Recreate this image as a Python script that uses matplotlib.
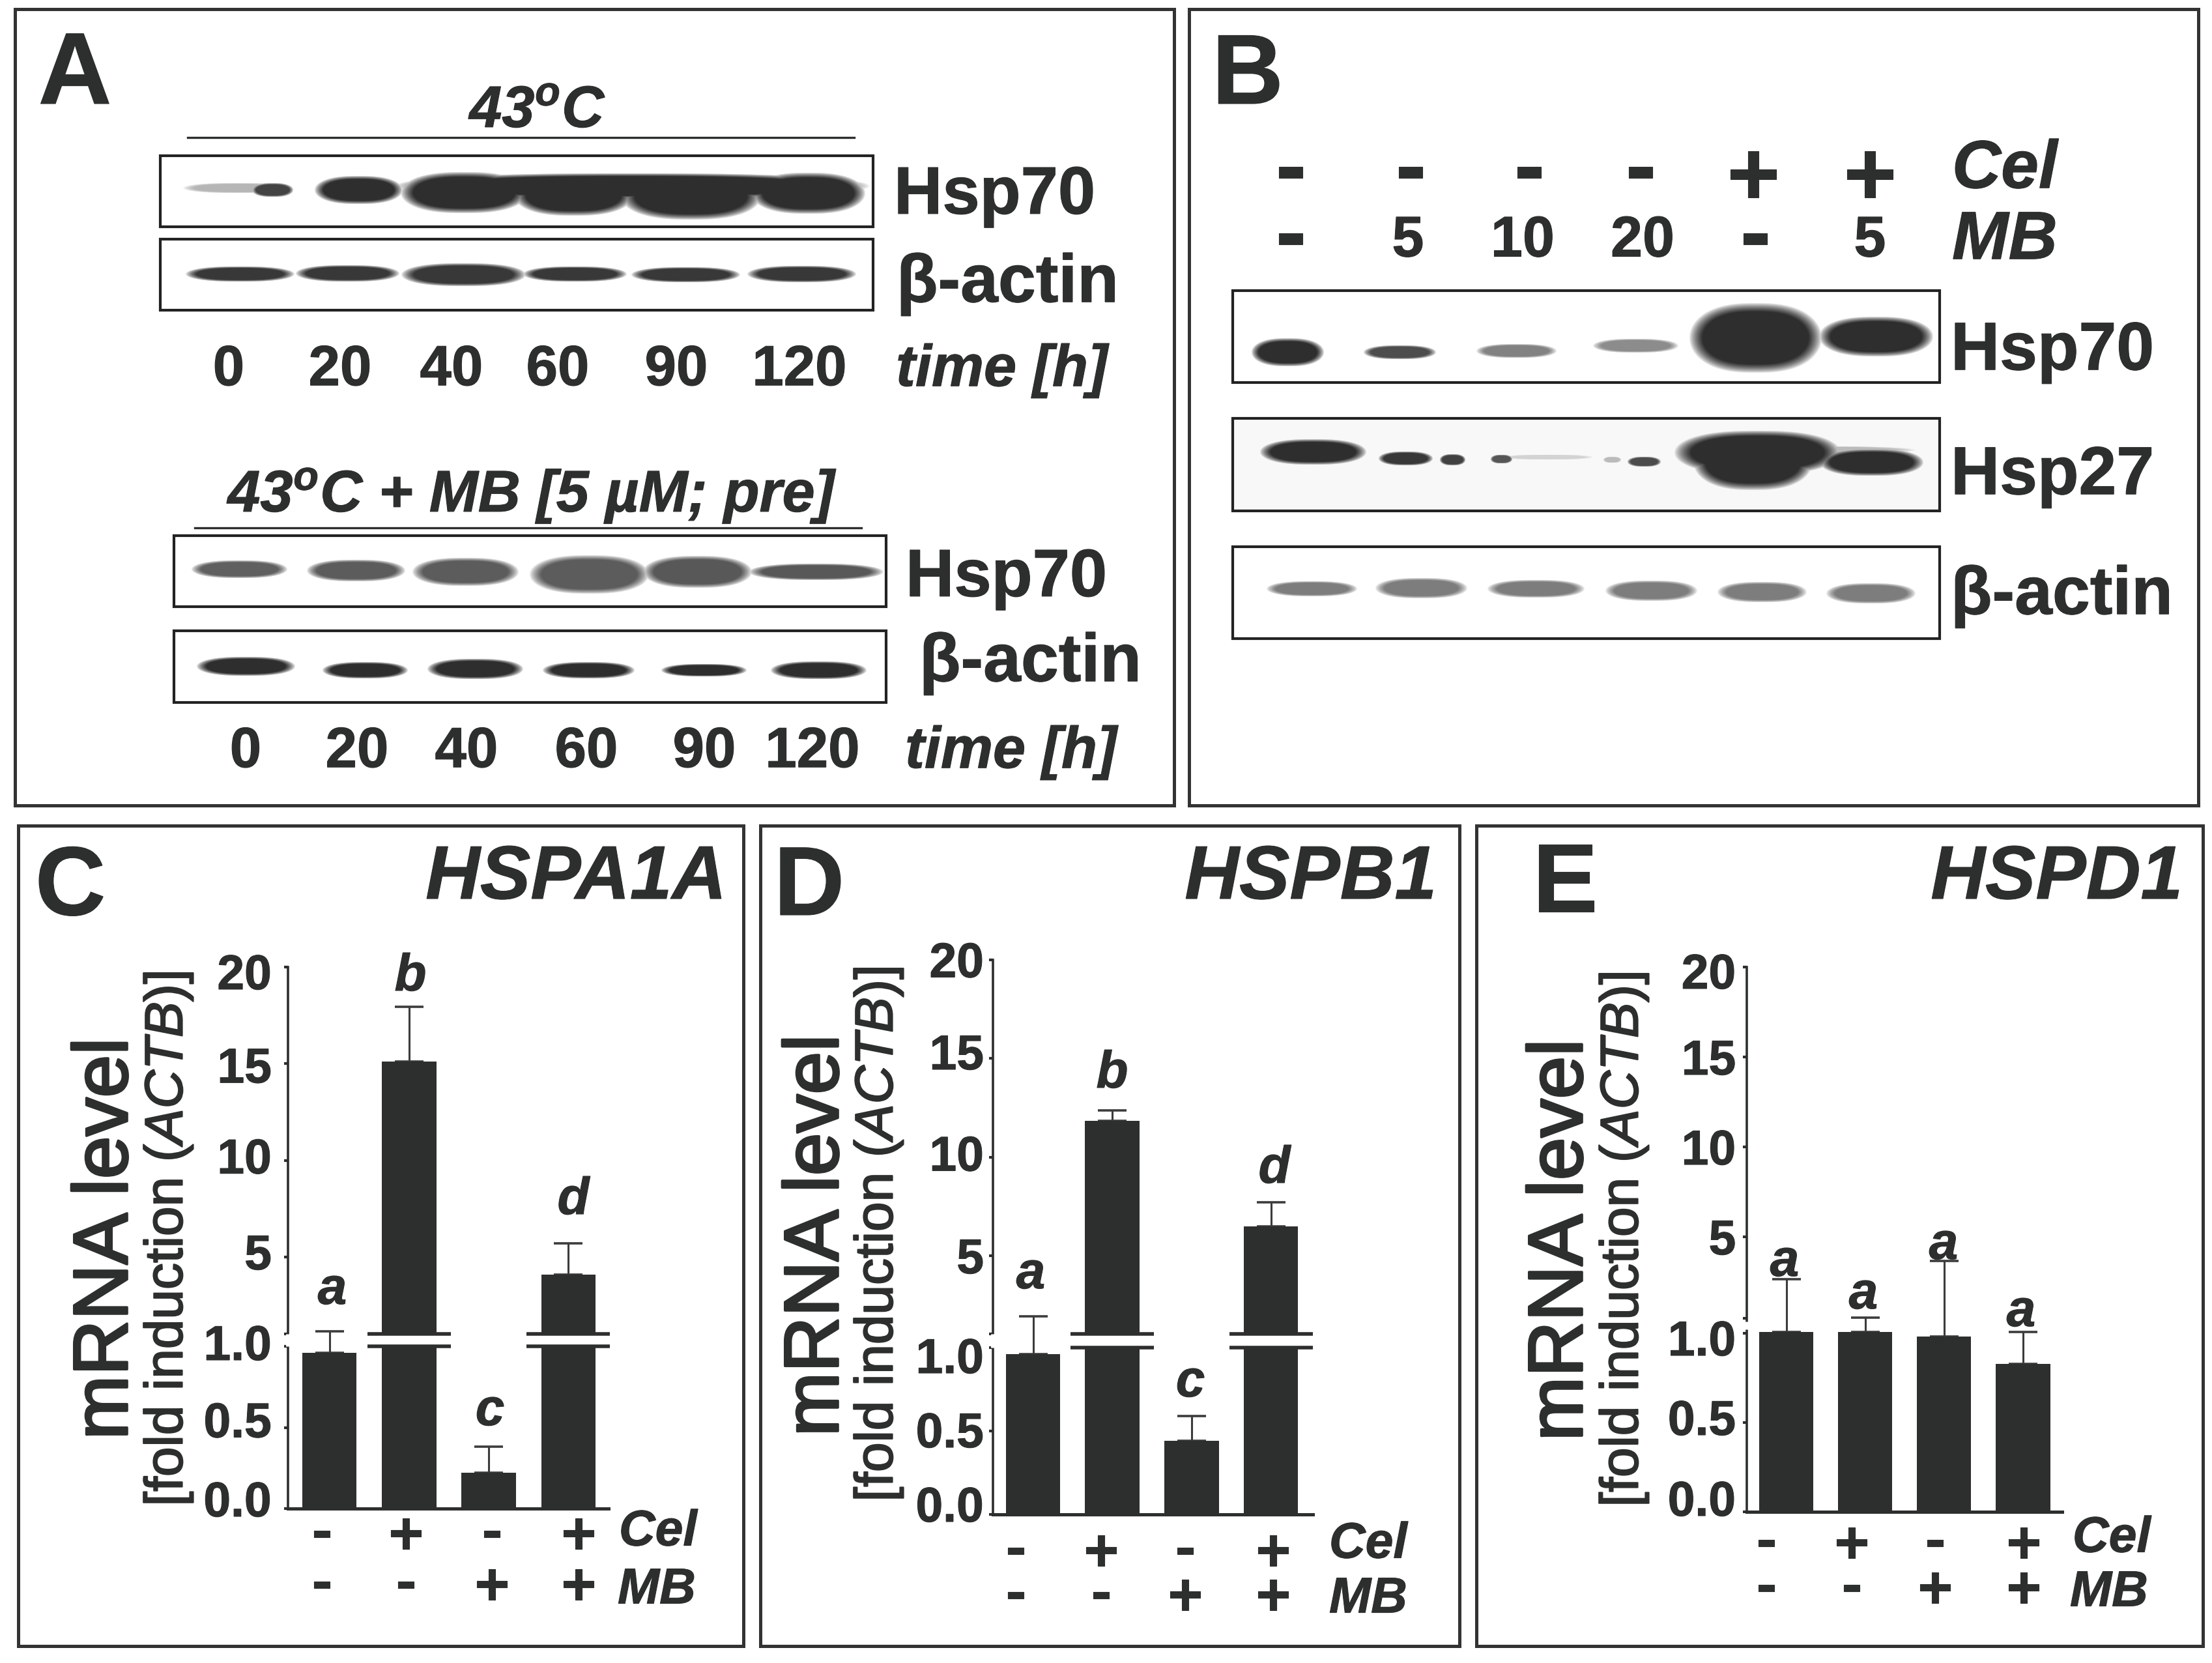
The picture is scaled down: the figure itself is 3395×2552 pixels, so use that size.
import numpy as np
import matplotlib
matplotlib.use('Agg')
import matplotlib.pyplot as plt
import matplotlib.patheffects as pe
from matplotlib.patches import Rectangle
from matplotlib.transforms import ScaledTranslation

plt.rcParams['font.family'] = ['Liberation Sans', 'DejaVu Sans']
plt.rcParams['mathtext.fontset'] = 'custom'
plt.rcParams['mathtext.it'] = 'Liberation Sans:italic'
plt.rcParams['mathtext.bf'] = 'Liberation Sans:italic:bold'
plt.rcParams['mathtext.rm'] = 'Liberation Sans'
plt.rcParams['mathtext.default'] = 'regular'

INK = '#2d2f2e'
W, H = 3395, 2552

# bar data
tick_values = [0, 0.5, 1, 5, 10, 15, 20]
tick_labels = ['0.0', '0.5', '1.0', '5', '10', '15', '20']
cel_signs = ['-', '+', '-', '+']
mb_signs = ['-', '-', '+', '+']

c_means = [0.96, 15.1, 0.22, 4.1]
c_tops = [1.15, 17.95, 0.38, 5.7]
d_means = [0.96, 11.84, 0.44, 6.5]
d_tops = [1.9, 12.36, 0.59, 7.7]
e_means = [1.05, 1.05, 0.98, 0.83]
e_tops = [3.24, 1.65, 4.0, 1.05]

c_letters = ['a', 'b', 'c', 'd']
d_letters = ['a', 'b', 'c', 'd']
e_letters = ['a', 'a', 'a', 'a']

# western blot bands: centre x, centre y, half width, half height, darkness
a_hsp70_bands = [(365, 288, 85, 8, .35), (418, 291, 32, 11, .9), (550, 291, 68, 22, 1),
                 (712, 295, 98, 32, 1), (880, 299, 92, 32, 1), (1060, 301, 108, 36, 1),
                 (1240, 296, 88, 32, 1), (970, 285, 365, 20, 1)]
a_actin_bands = [(368, 420, 84, 12, .95), (533, 419, 80, 13, .95), (711, 421, 96, 18, .95),
                 (882, 420, 80, 12, .95), (1052, 421, 84, 12, .95), (1230, 420, 84, 13, .95)]
a_mb_hsp70_bands = [(367, 873, 74, 14, .76), (546, 875, 76, 17, .78), (714, 877, 82, 22, .78),
                    (904, 881, 92, 30, .78), (1070, 877, 84, 25, .8), (1252, 877, 104, 13, .8)]
a_mb_actin_bands = [(377, 1022, 76, 15, 1), (560, 1028, 66, 13, 1), (729, 1026, 74, 16, 1),
                    (903, 1028, 71, 13, 1), (1080, 1028, 66, 10, 1), (1256, 1028, 74, 14, 1)]
b_hsp70_bands = [(1976, 540, 56, 22, 1), (2148, 540, 56, 11, .85), (2327, 538, 62, 11, .6),
                 (2510, 530, 66, 11, .55), (2694, 518, 102, 54, 1), (2879, 516, 88, 31, 1)]
b_hsp27_bands = [(2015, 693, 82, 20, 1), (2157, 703, 42, 11, .95), (2229, 705, 20, 9, .9),
                 (2304, 704, 17, 7, .8), (2375, 701, 70, 4, .18), (2474, 705, 14, 5, .3),
                 (2523, 708, 26, 8, .85), (2697, 694, 128, 34, 1), (2690, 708, 92, 44, 1),
                 (2872, 709, 80, 21, 1), (2780, 690, 160, 6, .3)]
b_actin_bands = [(2013, 903, 70, 12, .62), (2181, 902, 71, 16, .62), (2357, 903, 75, 14, .62),
                 (2534, 906, 71, 16, .62), (2704, 908, 69, 16, .62), (2871, 910, 69, 16, .62)]

a_times = ['0', '20', '40', '60', '90', '120']
b_cel = ['-', '-', '-', '-', '+', '+']
b_mb = ['-', '5', '10', '20', '-', '5']

fig = plt.figure(figsize=(W / 100, H / 100), dpi=100, facecolor='white')
over = fig.add_axes([0, 0, 1, 1], zorder=5)
over.patch.set_visible(False)
over.axis('off')


def heavy(width):
    return [pe.withStroke(linewidth=width, foreground=INK)]


def base(x, y, s, em, ha='center', weight='bold', style='normal'):
    over.text(x, y, s, fontsize=em * 0.72, ha=ha, va='baseline', color=INK,
              fontweight=weight, fontstyle=style, path_effects=heavy(0.8))


def txt(x, y, s, em, ha='center', weight='bold', style='normal'):
    # y is the middle of the capitals; em is the font size in pixels
    base(x, y + 0.358 * em, s, em, ha=ha, weight=weight, style=style)


def sign(x, y, s, em):
    # plus and minus signs, placed by their own middle
    off = 0.27 if s == '-' else 0.335
    base(x, y + off * em, s, em)


def frame(x0, y0, x1, y1, lw=3.6, color='#333333'):
    over.add_patch(Rectangle((x0, y0), x1 - x0, y1 - y0, fill=False, ec=color, lw=lw, zorder=6))


def blot(x0, y0, x1, y1, bands, paper=1.0):
    xs, ys = np.meshgrid(np.arange(x0, x1), np.arange(y0, y1))
    dark = np.zeros(xs.shape)
    for cx, cy, hw, hh, d in bands:
        f = 1 - (np.abs((xs - cx) / hw) ** 2.6 + np.abs((ys - cy) / hh) ** 2)
        dark = np.maximum(dark, d * np.clip(f / 0.45, 0, 1) ** 0.8)
    img = paper - (paper - 0.18) * dark
    over.imshow(img, extent=(x0, x1, y1, y0), cmap='gray', vmin=0, vmax=1, aspect='auto',
                interpolation='bilinear', zorder=1)
    frame(x0, y0, x1, y1, lw=3, color='#222222')


def bar_panel(px, means, tops, letters, letter_x, letter_y, knot_v, knot_px, label_dy, pad,
              gap, break_bars, sign_x, sign_y):
    left, right, center, step = px
    y0, y20 = knot_px[0], knot_px[-1]
    ax = fig.add_axes([left / W, 1 - y0 / H, (right - left) / W, (y0 - y20) / H], zorder=3)
    ax.patch.set_visible(False)
    heights = y0 - np.array(knot_px, dtype=float)

    def forward(v):
        return np.interp(v, knot_v, heights)

    def inverse(h):
        return np.interp(h, heights, knot_v)

    ax.set_yscale('function', functions=(forward, inverse))
    ax.set_ylim(0, 20)
    ax.set_xlim((left - center) / step, (right - center) / step)

    xpos = np.arange(len(means))
    means = np.array(means)
    tops = np.array(tops)
    ax.errorbar(xpos, means, yerr=[np.zeros(4), tops - means], fmt='none', ecolor='#3c3c3c',
                elinewidth=2.2, capsize=16, capthick=2.6, zorder=2)
    ax.bar(xpos, means, width=83.5 / step, color=INK, zorder=3)

    # axis break through the tall bars
    lo, hi = gap[0], gap[1]
    for i in break_bars:
        xr = [i - 64 / step, i + 64 / step]
        ax.fill_between(xr, knot_v[1], knot_v[2], color='white', lw=0, zorder=4, clip_on=False)
        ax.plot(xr, [knot_v[1]] * 2, color=INK, lw=4, zorder=5, solid_capstyle='butt', clip_on=False)
        ax.plot(xr, [knot_v[2]] * 2, color=INK, lw=4, zorder=5, solid_capstyle='butt', clip_on=False)

    ax.set_yticks(tick_values + [gap[2]], tick_labels + [''])
    ax.set_xticks([])
    ax.tick_params(axis='y', length=4, width=3, pad=pad, labelsize=54, colors=INK)
    for lab, dy in zip(ax.get_yticklabels(), label_dy):
        lab.set_fontweight('bold')
        lab.set_path_effects(heavy(0.8))
        lab.set_transform(lab.get_transform() + ScaledTranslation(0, dy / 100, fig.dpi_scale_trans))
    for s in ['top', 'right']:
        ax.spines[s].set_visible(False)
    ax.spines['left'].set_linewidth(2.6)
    ax.spines['bottom'].set_linewidth(3.6)
    ax.spines['left'].set_color(INK)
    ax.spines['bottom'].set_color(INK)
    xl = ax.get_xlim()[0]
    ax.plot([xl, xl], [lo, hi], color='white', lw=5, clip_on=False, zorder=6, solid_capstyle='butt')
    ax.set_xlim((left - center) / step, (right - center) / step)

    for s, x, y in zip(letters, letter_x, letter_y):
        base(x, y, s, 80, style='italic')
    for i in range(4):
        sign(sign_x[i], sign_y[0], cel_signs[i], 92)
        sign(sign_x[i], sign_y[1], mb_signs[i], 92)


def y_labels(x_big, y_big, x_small, y_small):
    over.text(x_big, y_big, 'mRNA level', fontsize=85, rotation=90, ha='center', va='baseline',
              rotation_mode='anchor', color=INK, path_effects=heavy(2.6))
    over.text(x_small, y_small, '[fold induction ($\\mathit{ACTB}$)]', fontsize=59, rotation=90,
              ha='center', va='baseline', rotation_mode='anchor', color=INK, path_effects=heavy(1.5))


# panel A
frame(23, 14, 1802, 1236)
base(115, 159, 'A', 156, weight='bold')
over.plot([288, 1311], [211, 211], color=INK, lw=2.4)
over.plot([299, 1322], [810, 810], color=INK, lw=2.4)
txt(826, 163, '43$^{\\mathbf{o}}$C', 90, style='italic')
txt(818, 753, '43$^{\\mathbf{o}}$C + MB [5 µM; pre]', 90, style='italic')
blot(246, 239, 1340, 348, a_hsp70_bands)
blot(246, 367, 1340, 476, a_actin_bands)
blot(267, 822, 1360, 931, a_mb_hsp70_bands)
blot(267, 968, 1360, 1078, a_mb_actin_bands)
txt(1372, 291, 'Hsp70', 103, ha='left')
txt(1376, 426, 'β-actin', 104, ha='left')
txt(1390, 878, 'Hsp70', 103, ha='left')
txt(1411, 1008, 'β-actin', 104, ha='left')
for s, x in zip(a_times, [351, 522, 693, 856, 1038, 1227]):
    txt(x, 560, s, 87)
for s, x in zip(a_times, [377, 548, 716, 900, 1081, 1247]):
    txt(x, 1146, s, 87)
txt(1375, 560, 'time [h]', 90, ha='left', style='italic')
txt(1389, 1146, 'time [h]', 90, ha='left', style='italic')

# panel B
frame(1825, 14, 3374, 1236)
base(1915, 159, 'B', 152, weight='bold')
b_x = [1981, 2165, 2347, 2518, 2691, 2870]
b_x2 = [1981, 2161, 2337, 2521, 2694, 2870]
for s, x in zip(b_cel, b_x):
    sign(x, 263 if s == '-' else 267, s, 140)
for s, x in zip(b_mb, b_x2):
    if s == '-':
        sign(x, 365, s, 140)
    else:
        txt(x, 362, s, 88)
txt(2996, 251, 'Cel', 104, ha='left', style='italic')
txt(2996, 360, 'MB', 104, ha='left', style='italic')
blot(1892, 446, 2977, 587, b_hsp70_bands)
blot(1892, 642, 2977, 784, b_hsp27_bands, paper=0.97)
blot(1892, 839, 2977, 980, b_actin_bands)
txt(2994, 530, 'Hsp70', 104, ha='left')
txt(2994, 721, 'Hsp27', 104, ha='left')
txt(2994, 905, 'β-actin', 104, ha='left')

# panel C
frame(28, 1267, 1141, 2526)
base(108, 1404, 'C', 150)
base(1115, 1379, 'HSPA1A', 116, ha='right', style='italic')
y_labels(195, 1901, 280, 1901)
bar_panel((442, 934, 505.5, 122.3), c_means, c_tops, c_letters, [510, 630, 752, 880],
          [2001, 1520, 2187, 1863], [0, 1, 1.0001, 5, 20], [2315, 2066, 2047, 1929, 1484],
          [15, 12, 6, 8, 7, -2, -7, 0], 14, (1, 1.0001, 1.0001), [1, 3],
          [494, 623, 755, 888], [2353, 2431])
txt(950, 2344, 'Cel', 77, ha='left', style='italic')
txt(948, 2433, 'MB', 77, ha='left', style='italic')

# panel D
frame(1167, 1267, 2240, 2526)
base(1242, 1404, 'D', 150)
base(2205, 1379, 'HSPB1', 116, ha='right', style='italic')
y_labels(1286, 1896, 1370, 1894)
bar_panel((1524, 2015, 1585.5, 121.7), d_means, d_tops, d_letters, [1582, 1707, 1827, 1956],
          [1977, 1669, 2143, 1815], [0, 1, 1.0001, 5, 20], [2324, 2068, 2047, 1927, 1472.5],
          [16, 2, -12, 0, 6, 10, 0, 0], 6, (1, 1.0001, 1.0001), [1, 3],
          [1559, 1690, 1819, 1954], [2379, 2447])
txt(2040, 2363, 'Cel', 77, ha='left', style='italic')
txt(2040, 2447, 'MB', 77, ha='left', style='italic')

# panel E
frame(2266, 1267, 3381, 2526)
base(2402, 1399, 'E', 150)
base(3350, 1379, 'HSPD1', 116, ha='right', style='italic')
y_labels(2428, 1903, 2514, 1902)
bar_panel((2681, 3165, 2741.5, 121.1), e_means, e_tops, e_letters, [2739, 2860, 2983, 3102],
          [1958, 2008, 1932, 2035], [0, 1, 5, 20], [2320, 2046, 1898, 1484],
          [21, 8, -7, 0, 0, 0, -6, 0], 8, (1.16, 1.5, 1.62), [],
          [2711, 2842, 2970, 3106], [2367, 2436])
txt(3181, 2354, 'Cel', 77, ha='left', style='italic')
txt(3177, 2437, 'MB', 77, ha='left', style='italic')

over.set_xlim(0, W)
over.set_ylim(H, 0)
over.set_xticks([])
over.set_yticks([])

fig.savefig('out.png', dpi=100)
